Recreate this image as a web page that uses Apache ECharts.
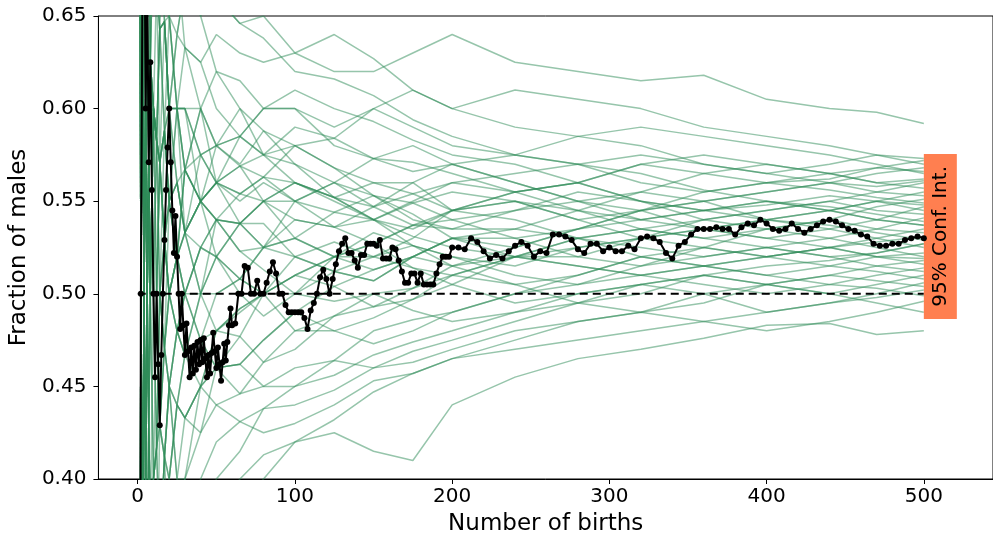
<!DOCTYPE html>
<html>
<head>
<meta charset="utf-8">
<script src="https://cdn.jsdelivr.net/npm/echarts@6/dist/echarts.min.js"></script>
<style>
  html, body { margin: 0; padding: 0; background: #fff; }
  #chart { width: 993px; height: 541px; }
</style>
</head>
<body>
<div id="chart"></div>
<script>
// births at which each simulated run was read off the picture
const simBirths = [1,2,3,4,5,6,7,8,10,12,14,17,20,25,30,40,50,65,80,100,125,150,175,200,240,280,320,360,400,440,470,500];

// simulated runs (fraction of males), one row per green line
const simRuns = [
  [1,.5,.667,.75,.6,.667,.714,.75,.7,.667,.643,.647,.65,.64,.667,.65,.66,.646,.65,.63,.62,.62,.63,.64,.625,.62,.615,.618,.605,.6,.598,.592],
  [1,.5,.667,.5,.6,.5,.571,.625,.6,.583,.571,.588,.6,.6,.6,.575,.58,.585,.6,.6,.59,.6,.61,.6,.61,.605,.6,.59,.585,.58,.575,.573],
  [0,0,.333,.25,.4,.5,.429,.5,.5,.5,.571,.529,.5,.48,.5,.525,.52,.538,.55,.56,.55,.54,.55,.56,.555,.56,.57,.575,.57,.565,.568,.572],
  [1,1,.667,.75,.8,.833,.714,.75,.7,.667,.714,.706,.65,.6,.633,.625,.64,.63,.625,.63,.64,.627,.61,.6,.59,.585,.58,.57,.565,.57,.575,.57],
  [0,.5,.667,.5,.4,.333,.429,.375,.4,.333,.357,.412,.4,.44,.433,.45,.48,.49,.5,.51,.52,.52,.53,.545,.55,.54,.545,.55,.555,.56,.565,.568],
  [1,.5,.333,.5,.6,.667,.571,.5,.5,.583,.571,.588,.55,.52,.567,.6,.58,.6,.575,.58,.584,.6,.59,.58,.575,.585,.59,.585,.58,.575,.57,.565],
  [0,.5,.667,.75,.6,.5,.429,.5,.6,.583,.643,.647,.6,.56,.533,.55,.56,.55,.56,.55,.56,.573,.58,.57,.56,.55,.555,.565,.57,.565,.56,.562],
  [1,.5,.333,.25,.2,.333,.286,.25,.3,.333,.286,.353,.35,.36,.4,.45,.46,.462,.475,.49,.504,.513,.52,.515,.52,.525,.53,.54,.545,.55,.555,.56],
  [1,1,1,.75,.8,.667,.714,.625,.6,.5,.5,.529,.55,.6,.6,.575,.56,.569,.55,.54,.536,.547,.56,.57,.575,.57,.56,.555,.56,.565,.56,.557],
  [0,0,.333,.5,.6,.5,.571,.625,.6,.583,.643,.706,.7,.68,.633,.625,.6,.585,.575,.57,.552,.54,.535,.545,.555,.545,.54,.545,.55,.545,.55,.555],
  [1,.5,.333,.25,.4,.5,.571,.5,.4,.417,.5,.471,.45,.48,.467,.5,.52,.508,.5,.52,.512,.507,.52,.53,.525,.535,.545,.55,.555,.56,.555,.553],
  [1,1,.667,.5,.6,.667,.571,.625,.7,.667,.571,.647,.6,.6,.567,.6,.62,.615,.6,.61,.6,.593,.583,.575,.57,.56,.55,.54,.535,.54,.547,.551],
  [0,0,.333,.5,.4,.333,.429,.375,.4,.5,.429,.471,.5,.52,.567,.55,.54,.523,.525,.55,.56,.547,.537,.54,.53,.535,.545,.555,.56,.556,.552,.549],
  [1,.5,.667,.75,.6,.5,.571,.5,.5,.5,.429,.412,.45,.4,.4,.425,.44,.446,.463,.48,.488,.493,.503,.51,.52,.52,.53,.535,.53,.535,.54,.547],
  [0,.5,.667,.75,.8,.833,.857,.75,.7,.667,.643,.588,.55,.56,.533,.55,.58,.57,.588,.58,.568,.553,.54,.535,.545,.555,.55,.545,.548,.553,.55,.545],
  [0,0,0,.25,.2,.333,.286,.375,.3,.333,.357,.412,.45,.48,.5,.525,.54,.538,.55,.56,.552,.56,.56,.545,.54,.53,.535,.54,.545,.55,.545,.543],
  [1,1,.667,.5,.6,.667,.571,.5,.6,.583,.643,.588,.65,.6,.567,.575,.56,.554,.55,.53,.52,.513,.52,.53,.53,.52,.515,.52,.525,.53,.535,.541],
  [1,.5,.333,.5,.6,.5,.571,.625,.7,.75,.786,.765,.75,.72,.7,.675,.66,.646,.638,.62,.616,.607,.594,.585,.575,.57,.565,.556,.55,.547,.543,.539],
  [0,.5,.333,.25,.4,.5,.571,.625,.5,.5,.571,.529,.55,.52,.533,.5,.48,.477,.463,.47,.488,.5,.503,.515,.525,.535,.54,.545,.55,.545,.54,.537],
  [1,1,.667,.5,.4,.333,.286,.375,.4,.417,.5,.471,.5,.52,.567,.55,.56,.585,.6,.6,.58,.573,.566,.57,.56,.55,.545,.535,.53,.525,.53,.535],
  [0,0,.333,.25,.2,.167,.286,.25,.2,.25,.286,.294,.3,.32,.367,.4,.42,.431,.438,.45,.464,.48,.486,.49,.5,.505,.515,.525,.535,.54,.535,.533],
  [1,.5,.667,.75,.8,.667,.714,.75,.8,.75,.714,.647,.6,.56,.533,.55,.52,.508,.525,.54,.536,.54,.526,.52,.515,.525,.53,.525,.52,.525,.528,.531],
  [0,.5,.667,.5,.6,.5,.571,.5,.5,.417,.429,.412,.4,.44,.467,.5,.54,.554,.563,.58,.568,.56,.554,.545,.555,.56,.55,.545,.54,.537,.533,.529],
  [1,1,.667,.75,.6,.667,.714,.625,.6,.583,.571,.529,.5,.52,.5,.475,.46,.462,.45,.45,.456,.467,.474,.48,.49,.495,.5,.51,.515,.518,.522,.527],
  [1,.5,.333,.5,.4,.333,.429,.375,.5,.5,.5,.588,.6,.64,.633,.6,.56,.538,.538,.52,.512,.507,.52,.53,.535,.545,.555,.55,.54,.535,.53,.525],
  [1,.5,.333,.25,.4,.5,.429,.5,.6,.583,.5,.529,.55,.56,.533,.5,.52,.5,.488,.5,.52,.527,.537,.535,.535,.53,.52,.515,.51,.515,.52,.522],
  [0,0,.333,.5,.4,.5,.571,.625,.6,.583,.571,.588,.55,.52,.533,.575,.58,.569,.563,.55,.544,.54,.549,.555,.55,.545,.535,.53,.535,.53,.525,.52],
  [1,.5,.333,.5,.4,.5,.429,.375,.3,.333,.429,.412,.35,.4,.367,.375,.4,.415,.438,.44,.448,.46,.463,.47,.48,.485,.49,.5,.505,.51,.515,.518],
  [0,.5,.667,.5,.6,.667,.571,.625,.6,.5,.429,.471,.55,.52,.5,.525,.52,.538,.55,.55,.536,.527,.514,.51,.52,.515,.51,.515,.52,.525,.52,.516],
  [1,1,.667,.75,.6,.5,.571,.5,.6,.667,.714,.647,.6,.64,.667,.65,.62,.6,.588,.57,.56,.553,.543,.53,.52,.515,.51,.505,.5,.505,.51,.514],
  [1,.5,.667,.5,.6,.667,.714,.625,.5,.417,.357,.412,.45,.44,.433,.45,.48,.492,.5,.51,.504,.493,.497,.505,.52,.53,.525,.52,.525,.52,.515,.512],
  [1,1,1,1,.8,.833,.714,.75,.7,.75,.714,.706,.65,.6,.6,.55,.54,.538,.525,.52,.528,.52,.514,.505,.495,.5,.505,.51,.505,.5,.505,.51],
  [0,0,0,.25,.2,.333,.429,.375,.4,.417,.5,.529,.5,.48,.467,.475,.5,.508,.5,.48,.48,.487,.497,.51,.505,.51,.52,.525,.52,.515,.512,.508],
  [0,.5,.667,.75,.6,.5,.429,.5,.6,.583,.643,.647,.6,.6,.533,.525,.54,.523,.513,.5,.496,.5,.491,.485,.49,.5,.505,.5,.49,.495,.5,.506],
  [1,1,1,.75,.8,.667,.571,.625,.6,.583,.5,.471,.45,.4,.433,.45,.46,.477,.5,.51,.52,.533,.526,.515,.505,.495,.49,.495,.505,.51,.507,.504],
  [0,.5,.333,.25,.4,.333,.286,.375,.4,.333,.357,.412,.45,.48,.467,.45,.44,.431,.425,.43,.44,.453,.457,.465,.47,.475,.48,.485,.49,.495,.498,.502],
  [1,1,.667,.5,.4,.5,.571,.5,.5,.5,.571,.529,.5,.48,.5,.475,.46,.462,.475,.49,.48,.473,.48,.49,.5,.51,.52,.515,.51,.505,.503,.499],
  [1,.5,.333,.25,.2,.167,.143,.25,.3,.25,.286,.294,.35,.36,.4,.375,.38,.4,.413,.42,.432,.447,.457,.465,.475,.485,.49,.485,.48,.485,.49,.496],
  [0,0,.333,.25,.4,.5,.571,.5,.4,.417,.357,.353,.4,.44,.433,.425,.46,.446,.45,.46,.464,.46,.469,.475,.485,.495,.505,.51,.505,.5,.495,.49],
  [0,0,.333,.5,.4,.333,.286,.25,.3,.25,.214,.294,.3,.32,.333,.35,.38,.385,.4,.42,.425,.415,.41,.44,.455,.465,.47,.476,.483,.484,.478,.48],
  [1,1,.667,.5,.6,.5,.571,.5,.6,.583,.571,.588,.55,.56,.567,.55,.56,.569,.575,.59,.584,.573,.571,.565,.555,.56,.57,.565,.56,.562,.568,.566],
  [0,.5,.333,.5,.6,.667,.714,.625,.5,.5,.5,.471,.5,.52,.533,.55,.54,.538,.525,.53,.544,.553,.549,.54,.545,.55,.54,.535,.54,.545,.55,.548],
  [1,.5,.667,.75,.8,.667,.571,.625,.5,.5,.571,.588,.55,.6,.567,.55,.56,.554,.563,.56,.552,.54,.531,.525,.52,.53,.535,.53,.525,.52,.522,.527],
  [0,0,.333,.25,.4,.333,.429,.5,.5,.583,.571,.529,.5,.52,.5,.5,.5,.508,.525,.53,.52,.527,.537,.545,.55,.54,.53,.535,.54,.545,.54,.537],
  [1,.5,.333,.5,.4,.5,.571,.625,.7,.667,.643,.647,.6,.6,.6,.6,.58,.585,.575,.56,.552,.547,.554,.56,.565,.57,.575,.57,.565,.56,.558,.561],
  [0,.5,.667,.5,.6,.5,.429,.375,.4,.417,.429,.471,.45,.44,.467,.475,.48,.492,.5,.5,.512,.52,.526,.52,.51,.505,.51,.515,.52,.525,.52,.519]
];

// observed births (black line with dots)
const obsBirths = [
  1,2,3,4,5,6,7,8,9,10,11,12,13,14,15,16,17,18,19,20,
  21,22,23,24,25,26,27,28,29,30,31,32,33,34,35,36,37,38,39,40,
  41,42,43,44,45,46,47,48,49,50,51,52,53,54,55,56,57,58,59,
  60,62,64,66,68,70,72,74,76,78,80,82,84,86,88,90,92,94,96,98,
  100,102,104,106,108,110,112,114,116,118,120,122,124,126,128,130,132,134,136,138,
  140,142,144,146,148,150,152,154,156,158,160,162,164,166,168,170,172,174,176,178,
  180,182,184,186,188,190,192,194,196,198,
  200,204,208,212,216,220,224,228,232,236,240,244,248,252,256,260,264,268,272,276,
  280,284,288,292,296,300,304,308,312,316,320,324,328,332,336,340,344,348,352,356,
  360,364,368,372,376,380,384,388,392,396,400,404,408,412,416,420,424,428,432,436,
  440,444,448,452,456,460,464,468,472,476,480,484,488,492,496,500
];
const obsFraction = [
  0,.5,.667,.75,.6,.667,.571,.625,.556,.5,.455,.5,.462,.429,.467,.5,.529,.556,.579,.6,
  .571,.545,.522,.542,.52,.5,.481,.5,.483,.467,.484,.469,.455,.471,.457,.472,.459,.474,.462,.475,
  .463,.476,.465,.455,.467,.457,.468,.479,.469,.46,.471,.462,.453,.463,.473,.464,.474,.483,.492,
  .483,.484,.5,.5,.515,.514,.5,.5,.507,.5,.5,.506,.512,.517,.511,.5,.5,.494,.49,.49,
  .49,.49,.49,.487,.481,.491,.495,.5,.509,.513,.508,.5,.508,.516,.523,.527,.53,.522,.522,.518,
  .514,.521,.521,.527,.527,.527,.526,.529,.519,.519,.519,.525,.524,.518,.512,.506,.506,.511,.511,.506,
  .511,.505,.505,.505,.505,.511,.516,.52,.52,.52,
  .525,.525,.524,.53,.528,.523,.519,.521,.519,.523,.526,.528,.526,.52,.523,.522,.532,.532,.531,.529,
  .524,.522,.527,.527,.523,.525,.523,.523,.526,.524,.53,.531,.53,.528,.522,.519,.526,.528,.532,.535,
  .535,.535,.536,.535,.535,.532,.536,.538,.537,.54,.538,.535,.534,.535,.538,.535,.533,.535,.537,.539,
  .54,.539,.537,.535,.534,.532,.531,.527,.526,.526,.527,.527,.529,.53,.531,.53
];

// even split reference line
const evenBirths = [0, 500];
const evenFraction = 0.5;

const xTicks = [0, 100, 200, 300, 400, 500];

const FONT = 'DejaVu Sans';
const GREEN = 'rgba(46,139,87,0.5)';

var myChart = echarts.init(document.getElementById('chart'), null, { renderer: 'canvas' });

let series = simRuns.map(run => ({
  type: 'line',
  data: run.map((v, i) => [simBirths[i], v]),
  symbol: 'none',
  silent: true,
  z: 2,
  lineStyle: { color: GREEN, width: 1.5 }
}));

series.push({
  type: 'line',
  data: evenBirths.map(n => [n, evenFraction]),
  symbol: 'none',
  silent: true,
  z: 4,
  lineStyle: { color: '#000', width: 2, type: [8, 5] },
  markPoint: {
    symbol: 'rect',
    symbolSize: [33, 165],
    itemStyle: { color: '#ff7f50' },
    label: {
      show: true,
      formatter: '95% Conf. Int.',
      rotate: 90,
      color: '#000',
      fontSize: 20,
      fontFamily: FONT
    },
    data: [{ coord: [510.5, 0.531] }]
  }
});

series.push({
  type: 'line',
  data: obsFraction.map((v, i) => [obsBirths[i], v]),
  symbol: 'circle',
  symbolSize: 6,
  showAllSymbol: true,
  silent: true,
  z: 5,
  itemStyle: { color: '#000' },
  lineStyle: { color: '#000', width: 2 }
});

let options = {
  animation: false,
  backgroundColor: '#fff',
  grid: {
    left: 97, right: -2, top: 16, bottom: 60,
    show: true, borderColor: '#000', borderWidth: 1, backgroundColor: 'transparent'
  },
  xAxis: {
    type: 'value',
    min: -25,
    max: 544,
    name: 'Number of births',
    nameLocation: 'middle',
    nameGap: 34,
    nameTextStyle: { color: '#000', fontSize: 23, fontFamily: FONT },
    axisLine: { onZero: false, lineStyle: { color: '#000', width: 1 } },
    axisTick: { customValues: xTicks, length: 5, lineStyle: { color: '#000' } },
    axisLabel: { customValues: xTicks, color: '#000', fontSize: 20, fontFamily: FONT, margin: 8 },
    splitLine: { show: false }
  },
  yAxis: {
    type: 'value',
    min: 0.4,
    max: 0.65,
    interval: 0.05,
    name: 'Fraction of males',
    nameLocation: 'middle',
    nameGap: 64,
    nameTextStyle: { color: '#000', fontSize: 23, fontFamily: FONT },
    axisLine: { show: true, onZero: false, lineStyle: { color: '#000', width: 1 } },
    axisTick: { show: true, length: 5, lineStyle: { color: '#000' } },
    axisLabel: {
      color: '#000', fontSize: 20, fontFamily: FONT, margin: 12,
      formatter: v => v.toFixed(2)
    },
    splitLine: { show: false }
  },
  series: series
};

myChart.setOption(options);
</script>
</body>
</html>
